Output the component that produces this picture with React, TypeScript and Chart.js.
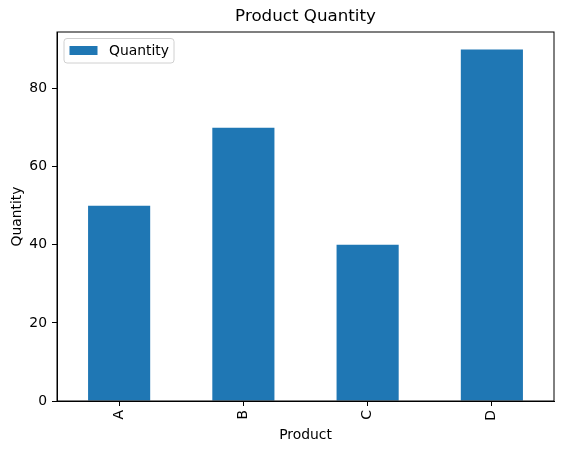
import { useEffect, useRef } from "react";
import { Chart, registerables } from "chart.js";

Chart.register(...registerables);

const products = ["A", "B", "C", "D"];
const quantities = [50, 70, 40, 90];
const yTicks = [0, 20, 40, 60, 80];

const FONT = "'DejaVu Sans', sans-serif";

// matplotlib-like frame, title and legend
const framePlugin = {
    id: "frame",
    afterDraw(chart: any) {
        const { ctx, chartArea } = chart;
        ctx.save();
        ctx.strokeStyle = "#000";
        ctx.lineWidth = 1;
        ctx.strokeRect(chartArea.left, chartArea.top, chartArea.right - chartArea.left, chartArea.bottom - chartArea.top);

        // title centred over the plot area
        ctx.fillStyle = "#000";
        ctx.font = "16.7px " + FONT;
        ctx.textAlign = "center";
        ctx.textBaseline = "middle";
        ctx.fillText("Product Quantity", (chartArea.left + chartArea.right) / 2, 17);

        // legend
        const lx = chartArea.left + 7;
        const ly = chartArea.top + 6.5;
        const lw = 110;
        const lh = 24.5;
        ctx.fillStyle = "rgba(255,255,255,0.8)";
        ctx.strokeStyle = "#d0d0d0";
        ctx.beginPath();
        ctx.roundRect(lx, ly, lw, lh, 3);
        ctx.fill();
        ctx.stroke();
        ctx.fillStyle = "#1f77b4";
        ctx.fillRect(lx + 5.5, ly + 7.5, 28, 9);
        ctx.fillStyle = "#000";
        ctx.font = "13.9px " + FONT;
        ctx.textAlign = "left";
        ctx.fillText("Quantity", lx + 45, ly + lh / 2 + 0.5);
        ctx.restore();
    },
};

export default function App() {
    const chartRef = useRef<HTMLCanvasElement | null>(null);
    const chartInstance = useRef<Chart | null>(null);

    useEffect(() => {
        document.body.style.margin = "0";
        if (!chartRef.current) return;
        const ctx = chartRef.current.getContext("2d");
        if (!ctx) return;
        if (chartInstance.current) chartInstance.current.destroy();

        chartInstance.current = new Chart(ctx, {
            type: "bar",
            data: {
                labels: products,
                datasets: [
                    {
                        label: "Quantity",
                        data: quantities,
                        backgroundColor: "#1f77b4",
                        borderWidth: 0,
                        barPercentage: 0.5,
                        categoryPercentage: 1,
                    },
                ],
            },
            options: {
                responsive: false,
                animation: false,
                devicePixelRatio: 1,
                layout: { padding: { left: 0, right: 8, top: 32, bottom: 0 } },
                plugins: {
                    legend: { display: false },
                    tooltip: { enabled: false },
                    title: { display: false },
                },
                scales: {
                    x: {
                        offset: true,
                        grid: { offset: false, drawOnChartArea: false, drawTicks: true, tickLength: 5, tickColor: "#000" },
                        border: { display: true, color: "#000", width: 1 },
                        ticks: {
                            color: "#000",
                            font: { family: FONT, size: 13.9 },
                            minRotation: 90,
                            maxRotation: 90,
                            padding: 4,
                        },
                        title: {
                            display: true,
                            text: "Product",
                            color: "#000",
                            font: { family: FONT, size: 13.9 },
                            padding: { top: 7, bottom: 7 },
                        },
                        afterFit(scale: any) {
                            scale.height = 50;
                        },
                    },
                    y: {
                        min: 0,
                        max: 94.5,
                        grid: { drawOnChartArea: false, drawTicks: true, tickLength: 5, tickColor: "#000" },
                        border: { display: true, color: "#000", width: 1 },
                        ticks: {
                            stepSize: 20,
                            color: "#000",
                            font: { family: FONT, size: 13.9 },
                            padding: 5,
                        },
                        afterBuildTicks(scale: any) {
                            scale.ticks = yTicks.map((v) => ({ value: v }));
                        },
                        title: {
                            display: true,
                            text: "Quantity",
                            color: "#000",
                            font: { family: FONT, size: 13.9 },
                            padding: { top: 9, bottom: 4 },
                        },
                        afterFit(scale: any) {
                            scale.width = 57;
                        },
                    },
                },
            },
            plugins: [framePlugin],
        });

        return () => {
            if (chartInstance.current) {
                chartInstance.current.destroy();
                chartInstance.current = null;
            }
        };
    }, []);

    return (
        <div style={{ width: 562, height: 451, background: "#fff" }}>
            <canvas ref={chartRef} width={562} height={451}></canvas>
        </div>
    );
}
